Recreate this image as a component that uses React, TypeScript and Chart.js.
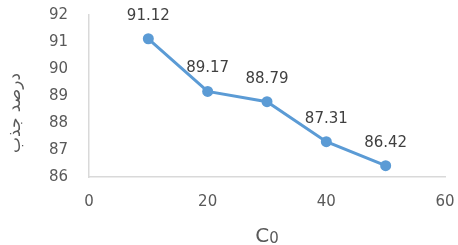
import React, { useEffect, useRef } from "react";
import { Chart, registerables } from "chart.js";

Chart.register(...registerables);

const xValues = [10, 20, 30, 40, 50];
const yValues = [91.12, 89.17, 88.79, 87.31, 86.42];
const labelText = ["91.12", "89.17", "88.79", "87.31", "86.42"];
const yAxisTitle = "درصد جذب";
const xAxisTitleMain = "C";
const xAxisTitleSub = "0";

const FONT = "'DejaVu Sans', Verdana, sans-serif";

const labelPlugin = {
  id: "pointLabels",
  afterDatasetsDraw(chart: any) {
    const ctx = chart.ctx;
    const meta = chart.getDatasetMeta(0);
    ctx.save();
    ctx.font = `15px ${FONT}`;
    ctx.fillStyle = "#404040";
    ctx.textAlign = "center";
    ctx.textBaseline = "middle";
    meta.data.forEach((el: any, i: number) => {
      ctx.fillText(labelText[i], el.x, el.y - 23);
    });
    ctx.restore();
  },
};

const titlesPlugin = {
  id: "axisTitles",
  afterDraw(chart: any) {
    const ctx = chart.ctx;
    const area = chart.chartArea;
    ctx.save();
    ctx.fillStyle = "#595959";
    // y title
    ctx.save();
    ctx.translate(16, (area.top + area.bottom) / 2 + 17);
    ctx.rotate(-Math.PI / 2);
    ctx.direction = "rtl";
    ctx.font = `17px ${FONT}`;
    ctx.textAlign = "center";
    ctx.textBaseline = "middle";
    ctx.fillText(yAxisTitle, 0, 0);
    ctx.restore();
    // x title
    const cx = (area.left + area.right) / 2;
    ctx.textBaseline = "alphabetic";
    ctx.font = `20px ${FONT}`;
    const w1 = ctx.measureText(xAxisTitleMain).width;
    ctx.font = `15px ${FONT}`;
    const w2 = ctx.measureText(xAxisTitleSub).width;
    const start = cx - (w1 + w2) / 2;
    ctx.textAlign = "left";
    ctx.font = `20px ${FONT}`;
    ctx.fillText(xAxisTitleMain, start, 242);
    ctx.font = `15px ${FONT}`;
    ctx.fillText(xAxisTitleSub, start + w1, 243);
    ctx.restore();
  },
};

export default function App() {
  const ref = useRef<HTMLCanvasElement>(null);
  useEffect(() => {
    document.body.style.margin = "0";
    const chart = new Chart(ref.current!, {
      type: "line",
      data: {
        datasets: [
          {
            data: xValues.map((x, i) => ({ x, y: yValues[i] })),
            borderColor: "#5B9BD5",
            backgroundColor: "#5B9BD5",
            borderWidth: 3,
            pointRadius: 5.5,
            pointBorderWidth: 0,
            tension: 0,
          },
        ],
      },
      options: {
        animation: false,
        responsive: false,
        maintainAspectRatio: false,
        layout: { padding: { top: 15, right: 13, left: 0, bottom: 0 } },
        plugins: { legend: { display: false }, tooltip: { enabled: false } },
        scales: {
          x: {
            type: "linear",
            min: 0,
            max: 60,
            ticks: { stepSize: 20, color: "#595959", font: { family: FONT, size: 15 }, padding: 16 },
            grid: { display: false, drawTicks: false },
            border: { color: "#d9d9d9", width: 1.5 },
            afterFit(scale: any) {
              scale.height = 68;
              scale.paddingLeft = 0;
              scale.paddingRight = 0;
            },
          },
          y: {
            min: 86,
            max: 92,
            ticks: { stepSize: 1, color: "#595959", font: { family: FONT, size: 15 }, padding: 21 },
            grid: { display: false, drawTicks: false },
            border: { color: "#d9d9d9", width: 1.5 },
            afterFit(scale: any) {
              scale.width = 89;
              scale.paddingTop = 0;
              scale.paddingBottom = 0;
            },
          },
        },
      },
      plugins: [labelPlugin, titlesPlugin],
    });
    return () => chart.destroy();
  }, []);
  return (
    <div style={{ width: 458, height: 245 }}>
      <canvas ref={ref} width={458} height={245} style={{ width: 458, height: 245 }} />
    </div>
  );
}
